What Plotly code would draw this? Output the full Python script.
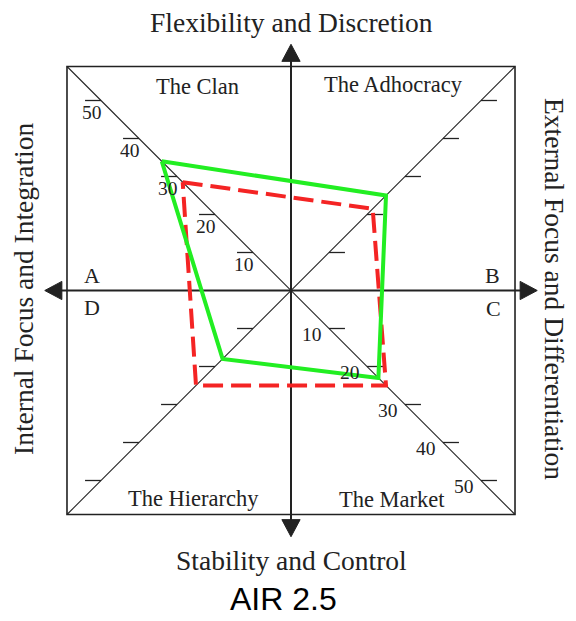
import plotly.graph_objects as go

# ---------------- data ----------------
quadrants = ["The Clan", "The Adhocracy", "The Market", "The Hierarchy"]
green_values = [34, 25, 23, 18]
red_values = [28.5, 21.5, 25, 25]
tick_values = [10, 20, 30, 40, 50]
tick_labels = ["10", "20", "30", "40", "50"]

# direction of each quadrant diagonal (x sign, y sign)
direction = {"The Clan": (-1, 1), "The Adhocracy": (1, 1),
             "The Market": (1, -1), "The Hierarchy": (-1, -1)}

W, H = 576, 621
PX = 3.8             # pixels per unit
CX, CY = 291, 290.5  # pixel position of origin
HALF = 58.95         # half size of square (units)
ARROW_TIP = 64.8
ARROW_LEN = 4.5
ARROW_HW = 2.4
TICK_LEN = 4.2
INK = "#222222"
SERIF = "Liberation Serif, Times New Roman, serif"


def poly(values):
    xs, ys = [], []
    for q, v in zip(quadrants, values):
        sx, sy = direction[q]
        xs.append(sx * v)
        ys.append(sy * v)
    xs.append(xs[0])
    ys.append(ys[0])
    return xs, ys


fig = go.Figure()

gx, gy = poly(green_values)
rx, ry = poly(red_values)
fig.add_trace(go.Scatter(x=rx, y=ry, mode="lines",
                         line=dict(color="#f42424", width=4, dash="20px,8px"),
                         hoverinfo="skip", showlegend=False))
fig.add_trace(go.Scatter(x=gx, y=gy, mode="lines",
                         line=dict(color="#22ee22", width=4),
                         hoverinfo="skip", showlegend=False))

shapes = []
# square
shapes.append(dict(type="rect", x0=-HALF, x1=HALF, y0=-HALF, y1=HALF,
                   line=dict(color=INK, width=1.6), layer="below"))
# diagonals
shapes.append(dict(type="line", x0=-HALF, y0=HALF, x1=HALF, y1=-HALF,
                   line=dict(color=INK, width=1.1), layer="below"))
shapes.append(dict(type="line", x0=-HALF, y0=-HALF, x1=HALF, y1=HALF,
                   line=dict(color=INK, width=1.1), layer="below"))
# main axes
shapes.append(dict(type="line", x0=-ARROW_TIP + 1, y0=0, x1=ARROW_TIP - 1, y1=0,
                   line=dict(color=INK, width=2), layer="below"))
shapes.append(dict(type="line", x0=0, y0=-ARROW_TIP + 1, x1=0, y1=ARROW_TIP - 1,
                   line=dict(color=INK, width=2), layer="below"))
# arrowheads
T, B, HW = ARROW_TIP, ARROW_TIP - ARROW_LEN, ARROW_HW
for path in [
    f"M {T},0 L {B},{HW} L {B},{-HW} Z",
    f"M {-T},0 L {-B},{HW} L {-B},{-HW} Z",
    f"M 0,{T} L {HW},{B} L {-HW},{B} Z",
    f"M 0,{-T} L {HW},{-B} L {-HW},{-B} Z",
]:
    shapes.append(dict(type="path", path=path, fillcolor=INK,
                       line=dict(color=INK, width=1), layer="below"))
# ticks along diagonals
for v in tick_values:
    for q in quadrants:
        sx, sy = direction[q]
        x0 = sx * v
        y0 = sy * v
        shapes.append(dict(type="line", x0=x0, y0=y0, x1=x0 + sx * TICK_LEN, y1=y0,
                           line=dict(color=INK, width=1.3), layer="below"))

annotations = []
# tick labels: Clan diagonal (below the tick) and Market diagonal (left of diagonal)
for v, lab in zip(tick_values, tick_labels):
    annotations.append(dict(x=-v, y=v, xref="x", yref="y", text=lab, showarrow=False,
                            xshift=-9, yshift=-12,
                            font=dict(family=SERIF, size=19.5, color=INK)))
    annotations.append(dict(x=v, y=-v, xref="x", yref="y", text=lab, showarrow=False,
                            xshift=-17, yshift=-6,
                            font=dict(family=SERIF, size=19.5, color=INK)))


def pa(px, py, text, size, angle=0, family=SERIF, color=INK):
    annotations.append(dict(x=px / W, y=1 - py / H,
                            xref="paper", yref="paper",
                            text=text, showarrow=False, textangle=angle,
                            xanchor="center", yanchor="middle", borderpad=0,
                            font=dict(family=family, size=size, color=color)))


# quadrant names
pa(197, 87, "The Clan", 22.5)
pa(393, 85, "The Adhocracy", 22.5)
pa(193, 498, "The Hierarchy", 22.5)
pa(392, 499, "The Market", 22.5)
# quadrant letters
pa(92, 275, "A", 22)
pa(92, 307, "D", 22)
pa(492, 275, "B", 22)
pa(493, 308, "C", 22)
# axis titles
pa(291, 22, "Flexibility and Discretion", 27.5)
pa(291, 560, "Stability and Control", 27.5)
pa(23, 289, "Internal Focus and Integration", 27.5, angle=-90)
pa(555, 289, "External Focus and Differentiation", 27.5, angle=90)
# chart title
pa(283, 599, "AIR 2.5", 32, family="Liberation Sans, Arial, sans-serif", color="#000000")

fig.update_layout(
    width=W, height=H, autosize=False,
    margin=dict(l=0, r=0, t=0, b=0),
    paper_bgcolor="white", plot_bgcolor="white",
    xaxis=dict(range=[-CX / PX, (W - CX) / PX], visible=False, fixedrange=True),
    yaxis=dict(range=[-(H - CY) / PX, CY / PX], visible=False, fixedrange=True),
    shapes=shapes, annotations=annotations, showlegend=False,
)

fig.write_html("out.html",
               config={"displayModeBar": False, "staticPlot": True},
               post_script="document.body.style.margin='0';document.body.style.overflow='hidden';")
